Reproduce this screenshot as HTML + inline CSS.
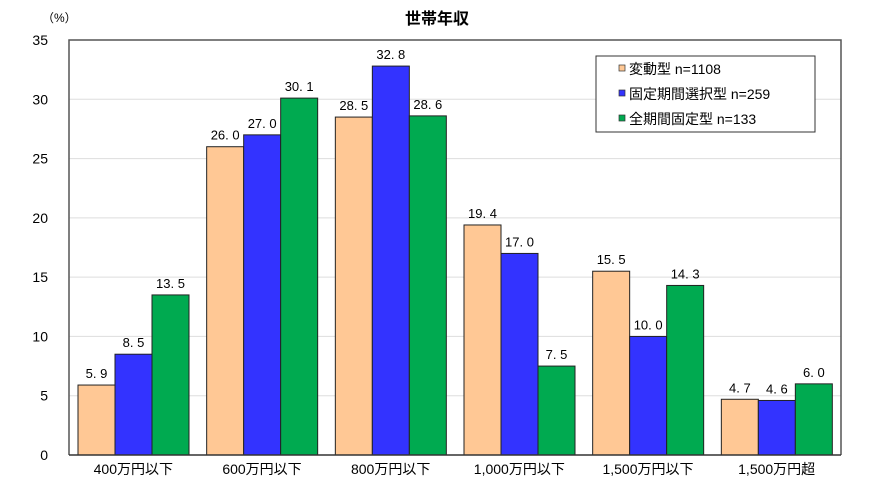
<!DOCTYPE html>
<html><head><meta charset="utf-8"><style>
body{margin:0;background:#fff;width:870px;height:497px;overflow:hidden}
svg text{font-family:"Liberation Sans","Noto Sans CJK JP",sans-serif}
</style></head><body>
<svg id="c" width="870" height="497" xmlns="http://www.w3.org/2000/svg">
<text x="437" y="24" text-anchor="middle" font-size="16" font-weight="bold">世帯年収</text>
<text x="42" y="22" font-size="12">（%）</text>
<g id="grid"></g><g id="bars"></g><g id="labels"></g>
<g>
<rect x="596" y="56" width="219" height="76" fill="#fff" stroke="#333" stroke-width="1"/>
<rect x="619" y="65" width="6" height="6" fill="#FFC895" stroke="#333" stroke-width="0.7"/>
<text x="629" y="74" font-size="14">変動型  n=1108</text>
<rect x="619" y="90" width="6" height="6" fill="#3333FF" stroke="#333" stroke-width="0.7"/>
<text x="629" y="99" font-size="14">固定期間選択型  n=259</text>
<rect x="619" y="115" width="6" height="6" fill="#00AA50" stroke="#333" stroke-width="0.7"/>
<text x="629" y="124" font-size="14">全期間固定型  n=133</text>
</g>
</svg>
<script>
const categories=["400万円以下","600万円以下","800万円以下","1,000万円以下","1,500万円以下","1,500万円超"];
const variable=[5.9,26.0,28.5,19.4,15.5,4.7];
const fixedPeriod=[8.5,27.0,32.8,17.0,10.0,4.6];
const fullFixed=[13.5,30.1,28.6,7.5,14.3,6.0];
const yTicks=[0,5,10,15,20,25,30,35];
const series=[{n:'variable',v:variable,c:'#FFC895'},{n:'fixed-period',v:fixedPeriod,c:'#3333FF'},{n:'full-fixed',v:fullFixed,c:'#00AA50'}];
const L=69,R=841,T=40,B=455,NS='http://www.w3.org/2000/svg';
const y=v=>B-(v/35)*(B-T);
const cw=(R-L)/categories.length;
const bw=37;
const x=(i,s)=>L+i*cw+9+s*bw;
function mk(t,a,p){const e=document.createElementNS(NS,t);for(const k in a)e.setAttribute(k,a[k]);p.appendChild(e);return e;}
const g=document.getElementById('grid'),gb=document.getElementById('bars'),gl=document.getElementById('labels');
yTicks.forEach(t=>{
 if(t>0&&t<35){const l=mk('line',{x1:L,x2:R,y1:y(t),y2:y(t),stroke:'#ddd','stroke-width':1},g);
 
 }
 const tx=mk('text',{x:48,y:y(t)+5,'text-anchor':'end','font-size':14},g);tx.textContent=t;
 
 
});
const fr=mk('path',{d:`M${L},${B}V${T}H${R}V${B}`,fill:'none',stroke:'#555','stroke-width':1.5},g);


categories.forEach((c,i)=>{
 series.forEach((s,si)=>{
  const v=s.v[i];
  const r=mk('rect',{x:x(i,si),y:y(v),width:bw,height:B-y(v),fill:s.c,stroke:'#222','stroke-width':1},gb);
  
  
  const t=mk('text',{x:x(i,si)+bw/2,y:y(v)-7,'text-anchor':'middle','font-size':13},gl);
  t.textContent=v.toFixed(1).replace('.','. ');
  
  
 });
 const ct=mk('text',{x:L+i*cw+cw/2,y:474,'text-anchor':'middle','font-size':14},gl);ct.textContent=c;
 
 
});
const ax=mk('line',{x1:L,x2:R,y1:B,y2:B,stroke:'#333','stroke-width':1.5},gl);


</script>
</body></html>
